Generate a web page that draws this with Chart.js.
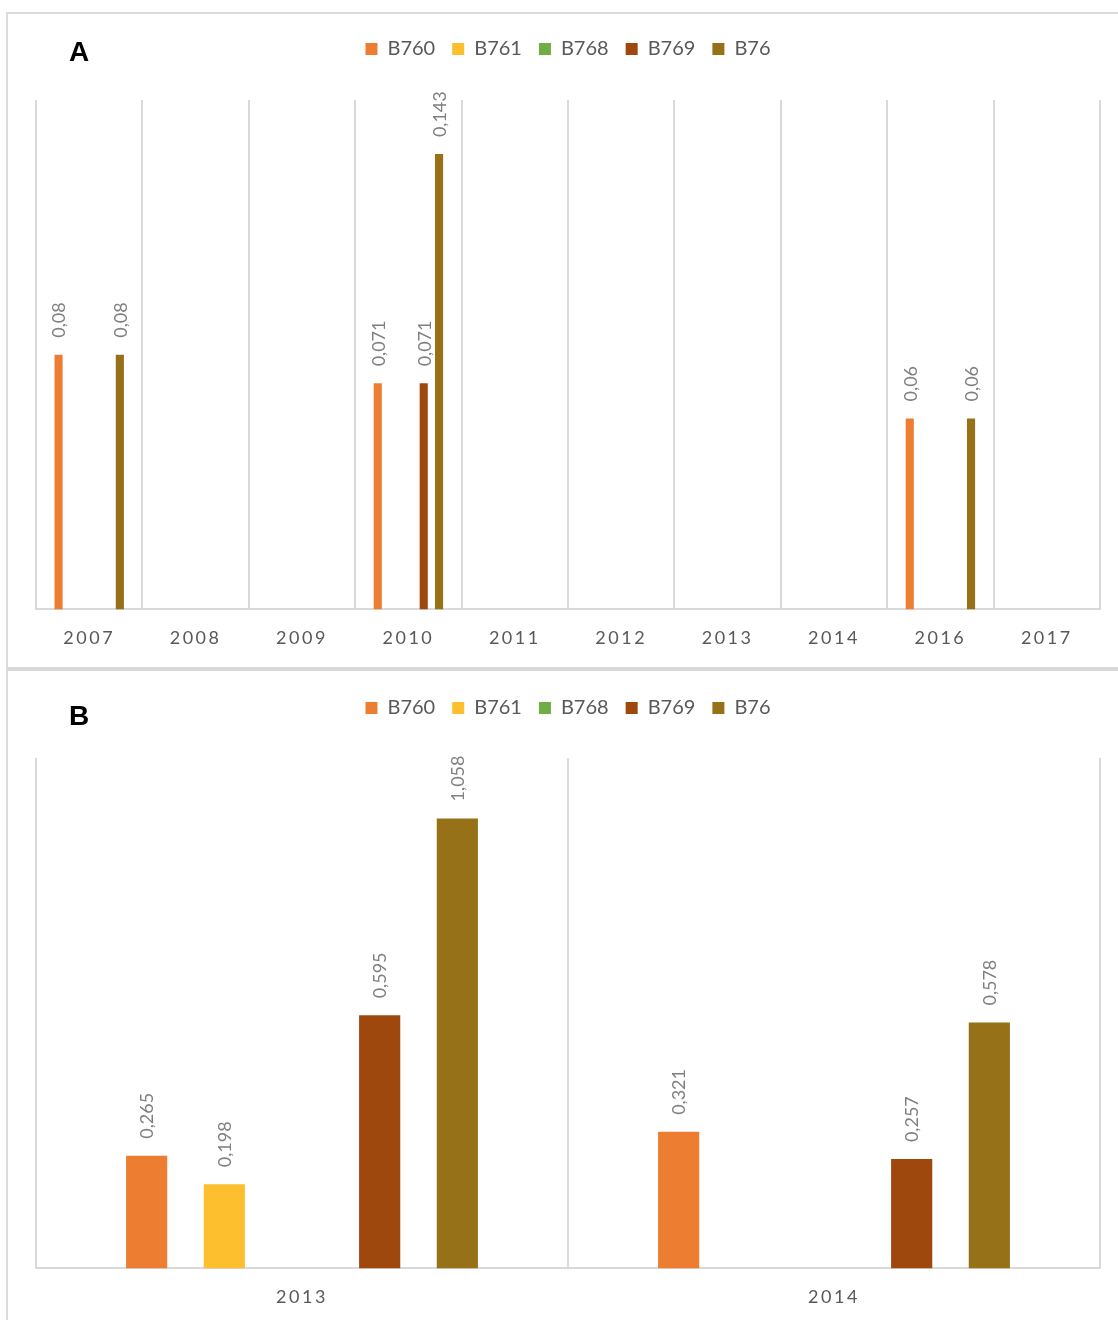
<!DOCTYPE html>
<html>
<head>
<meta charset="utf-8">
<script src="https://cdn.jsdelivr.net/npm/chart.js@4"></script>
<style>
  body { margin: 0; background: #fff; }
  .page { position: relative; width: 1118px; height: 1320px; overflow: hidden; }
  canvas { position: absolute; left: 0; }
  #chartA { top: 0; }
  #chartB { top: 670px; }
  .frame-top { position: absolute; left: 6px; top: 12px; width: 1112px; height: 2px; background: #dcdcdc; }
  .frame-left { position: absolute; left: 6px; top: 12px; width: 2px; height: 1308px; background: #dcdcdc; }
  .frame-mid { position: absolute; left: 6px; top: 667px; width: 1112px; height: 4px; background: #d9d9d9; }
  .panel-tag { position: absolute; left: 69px; font: bold 28px "Liberation Sans", Arial, sans-serif; color: #000; }
</style>
</head>
<body>
<div class="page">
  <canvas id="chartA" width="1118" height="667"></canvas>
  <canvas id="chartB" width="1118" height="668"></canvas>
  <div class="frame-top"></div>
  <div class="frame-left"></div>
  <div class="frame-mid"></div>
  <div class="panel-tag" style="top:36px">A</div>
  <div class="panel-tag" style="top:700px">B</div>
</div>

<script>
const seriesNames = ["B760", "B761", "B768", "B769", "B76"];
const seriesColors = ["#ED7D31", "#FDBF2D", "#70AD47", "#9E480E", "#967117"];

// panel A: yearly values
const yearsA = ["2007", "2008", "2009", "2010", "2011", "2012", "2013", "2014", "2016", "2017"];
const a_B760 = [0.08, null, null, 0.071, null, null, null, null, 0.06, null];
const a_B761 = [null, null, null, null, null, null, null, null, null, null];
const a_B768 = [null, null, null, null, null, null, null, null, null, null];
const a_B769 = [null, null, null, 0.071, null, null, null, null, null, null];
const a_B76  = [0.08, null, null, 0.143, null, null, null, null, 0.06, null];

// panel B
const yearsB = ["2013", "2014"];
const b_B760 = [0.265, 0.321];
const b_B761 = [0.198, null];
const b_B768 = [null, null];
const b_B769 = [0.595, 0.257];
const b_B76  = [1.058, 0.578];

const FONT = "Lato, 'Open Sans', sans-serif";
const gridColor = "#d9d9d9";

// value labels written vertically above each bar, decimal comma
const barValues = {
  id: "barValues",
  afterDatasetsDraw(chart) {
    const ctx = chart.ctx;
    ctx.save();
    ctx.fillStyle = "#7f7f7f";
    ctx.font = "18px " + FONT;
    ctx.textAlign = "left";
    ctx.textBaseline = "middle";
    chart.data.datasets.forEach((ds, di) => {
      const meta = chart.getDatasetMeta(di);
      meta.data.forEach((bar, i) => {
        const v = ds.data[i];
        if (v === null || v === undefined) return;
        ctx.save();
        ctx.translate(bar.x + 1, bar.y - 17);
        ctx.rotate(-Math.PI / 2);
        ctx.fillText(String(v).replace(".", ","), 0, 0);
        ctx.restore();
      });
    });
    ctx.restore();
  }
};

// wider letter spacing on the year labels only
const spacedTicks = {
  id: "spacedTicks",
  beforeDraw(chart) {
    const sc = chart.scales.x;
    if (sc._spaced) return;
    const draw = sc.drawLabels.bind(sc);
    sc.drawLabels = area => {
      chart.ctx.save();
      chart.ctx.letterSpacing = "2.5px";
      draw(area);
      chart.ctx.restore();
    };
    sc._spaced = true;
  }
};

function makeDatasets(lists, catPct) {
  return lists.map((data, i) => ({
    label: seriesNames[i],
    data: data,
    backgroundColor: seriesColors[i],
    xAxisID: "x",
    yAxisID: "y",
    barPercentage: 0.53,
    categoryPercentage: catPct
  }));
}

function makeChart(id, labels, lists, yMax, pad, gap, catPct) {
  return new Chart(document.getElementById(id), {
    type: "bar",
    data: { labels: labels, datasets: makeDatasets(lists, catPct) },
    options: {
      responsive: false,
      animation: false,
      layout: { padding: pad },
      plugins: {
        legend: {
          position: "top",
          labels: {
            font: { family: FONT, size: 20 },
            color: "#595959",
            boxWidth: 12,
            boxHeight: 12,
            padding: 17
          }
        },
        tooltip: { enabled: false }
      },
      scales: {
        x: {
          grid: { color: gridColor, lineWidth: 2, drawTicks: false },
          border: { color: gridColor, width: 2 },
          ticks: {
            font: { family: FONT, size: 18 },
            color: "#595959",
            padding: 18,
            maxRotation: 0,
            autoSkip: false
          }
        },
        y: { display: false, min: 0, max: yMax },
        // empty band between legend and plot
        spacer: {
          type: "category",
          position: "top",
          grid: { display: false },
          border: { display: false },
          ticks: { display: false },
          afterFit(s) { s.height = gap; }
        }
      }
    },
    plugins: [barValues, spacedTicks]
  });
}

makeChart("chartA", yearsA, [a_B760, a_B761, a_B768, a_B769, a_B76], 0.16,
  { top: 22, left: 36, right: 18, bottom: 0 }, 31, 0.72);

makeChart("chartB", yearsB, [b_B760, b_B761, b_B768, b_B769, b_B76], 1.2,
  { top: 11, left: 36, right: 18, bottom: 12 }, 30, 0.73);
</script>
</body>
</html>
